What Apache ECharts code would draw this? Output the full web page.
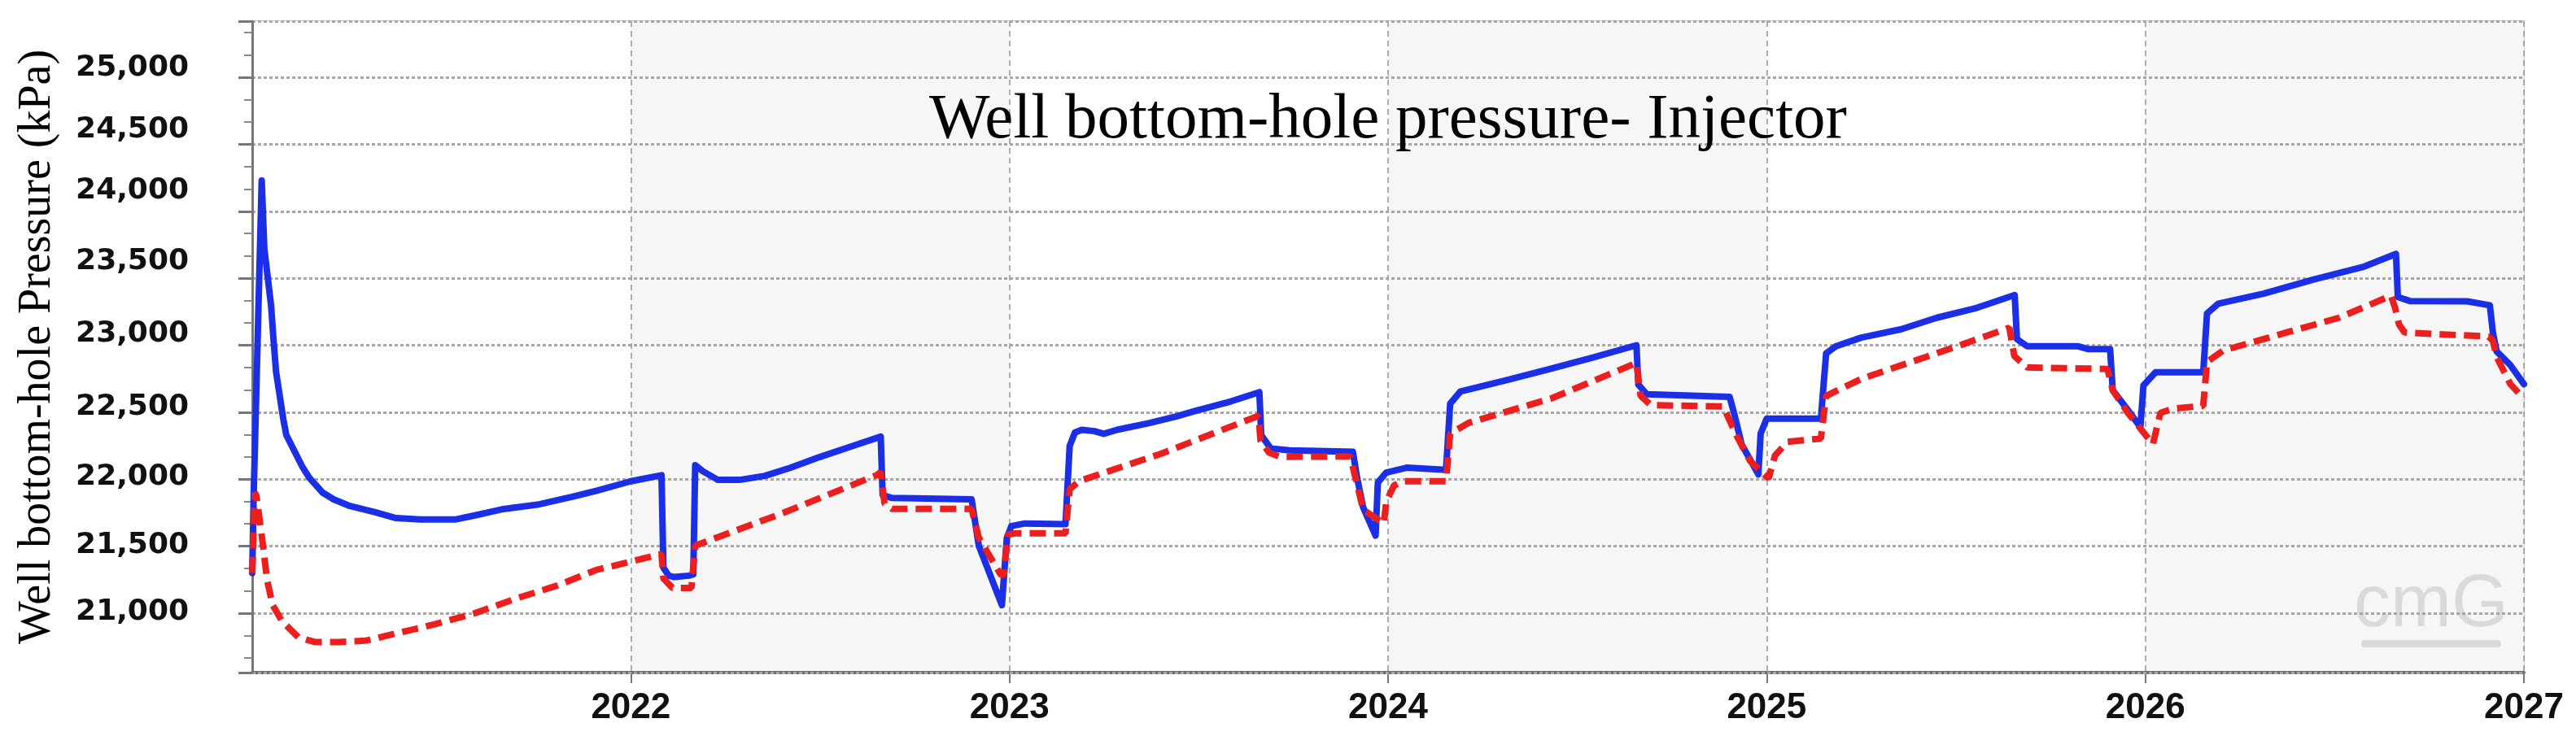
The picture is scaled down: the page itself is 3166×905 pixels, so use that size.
<!DOCTYPE html>
<html>
<head>
<meta charset="utf-8">
<script src="https://cdn.jsdelivr.net/npm/echarts@6/dist/echarts.min.js"></script>
<style>
html,body{margin:0;padding:0;background:#ffffff;}
#chart{width:3166px;height:905px;}
</style>
</head>
<body>
<div id="chart"></div>
<script>
// ---- data (decimal year, kPa) ----
const titleText = 'Well bottom-hole pressure- Injector';
const yAxisTitle = 'Well bottom-hole Pressure (kPa)';
const xMin = 2021, xMax = 2027;
const yMin = 20557, yMax = 25419;

const blueTime = [
  2021.000,2021.004,2021.025,2021.032,2021.050,2021.056,2021.063,2021.082,2021.090,2021.133,
  2021.151,2021.186,2021.215,2021.258,2021.323,2021.380,2021.444,2021.538,2021.588,2021.659,
  2021.753,2021.847,2021.910,2022.000,2022.081,2022.086,2022.100,2022.115,2022.153,2022.165,
  2022.170,2022.190,2022.230,2022.287,2022.354,2022.421,2022.498,2022.593,2022.660,2022.665,
  2022.690,2022.900,2022.919,2022.947,2022.980,2022.993,2023.005,2023.041,2023.148,2023.159,
  2023.173,2023.191,2023.224,2023.249,2023.284,2023.370,2023.442,2023.492,2023.585,2023.660,
  2023.665,2023.690,2023.740,2023.907,2023.918,2023.934,2023.967,2023.973,2023.995,2024.049,
  2024.153,2024.164,2024.191,2024.235,2024.322,2024.432,2024.541,2024.656,2024.661,2024.683,
  2024.902,2024.913,2024.934,2024.978,2024.984,2025.000,2025.143,2025.157,2025.183,2025.250,
  2025.356,2025.449,2025.555,2025.655,2025.661,2025.688,2025.821,2025.848,2025.907,2025.914,
  2025.954,2025.987,2025.995,2026.027,2026.153,2026.163,2026.193,2026.312,2026.445,2026.578,
  2026.662,2026.667,2026.699,2026.850,2026.910,2026.918,2026.928,2026.964,2027.000
];
const blueValues = [
  21300,21900,24230,23720,23290,23050,22800,22450,22330,22090,
  22010,21900,21850,21800,21755,21710,21700,21700,21730,21775,
  21810,21870,21915,21985,22030,21340,21280,21270,21280,21290,
  22105,22060,21995,21995,22025,22085,22165,22255,22318,21881,
  21860,21850,21504,21301,21060,21560,21650,21670,21665,22248,
  22349,22369,22359,22339,22369,22420,22470,22511,22581,22650,
  22329,22230,22215,22205,22015,21792,21579,21975,22050,22086,
  22070,22564,22655,22685,22746,22827,22909,23000,22706,22635,
  22614,22503,22259,22036,22340,22452,22452,22940,22993,23057,
  23120,23205,23279,23375,23046,22993,22993,22972,22972,22664,
  22516,22389,22700,22798,22798,23237,23311,23385,23491,23587,
  23682,23360,23330,23328,23298,23095,22954,22852,22710
];

const redTime = [
  2021.000,2021.007,2021.011,2021.018,2021.029,2021.039,2021.054,2021.079,2021.122,2021.165,
  2021.229,2021.301,2021.373,2021.480,2021.588,2021.695,2021.803,2021.910,2022.000,2022.081,
  2022.086,2022.110,2022.160,2022.170,2022.402,2022.651,2022.660,2022.670,2022.690,2022.900,
  2022.919,2022.976,2022.985,2022.995,2023.014,2023.148,2023.159,2023.184,2023.400,2023.658,
  2023.663,2023.686,2023.714,2023.900,2023.918,2023.934,2023.989,2023.995,2024.016,2024.038,
  2024.153,2024.164,2024.213,2024.432,2024.656,2024.667,2024.694,2024.885,2024.918,2024.956,
  2025.005,2025.022,2025.055,2025.143,2025.157,2025.250,2025.382,2025.515,2025.641,2025.654,
  2025.688,2025.900,2025.914,2025.954,2026.020,2026.040,2026.073,2026.153,2026.163,2026.206,
  2026.378,2026.511,2026.649,2026.660,2026.670,2026.685,2026.907,2026.918,2026.928,2026.964,
  2027.000
];
const redValues = [
  21300,21900,21876,21732,21492,21252,21060,20940,20820,20785,
  20785,20796,20844,20916,21000,21108,21204,21324,21385,21443,
  21260,21189,21189,21504,21748,22033,22054,21820,21779,21779,
  21565,21291,21280,21586,21596,21596,21925,21986,22190,22474,
  22289,22198,22167,22170,21966,21772,21670,21833,21954,21985,
  21985,22340,22421,22604,22868,22624,22553,22543,22340,22137,
  22005,22178,22279,22304,22622,22749,22876,23004,23131,22919,
  22834,22823,22664,22495,22262,22495,22527,22548,22876,22961,
  23099,23205,23370,23277,23156,23095,23065,23034,22913,22711,
  22600
];

const pair = (ts, vs) => ts.map((t, i) => [t, vs[i]]);

// styling: the reference's y tick labels sit a little above their grid lines (px lift)
const yLabelFont = {fontFamily: 'DejaVu Sans', fontWeight: 'bold', fontSize: 36, color: '#111'};
const yLabelLift = {25000: 11, 24500: 18, 24000: 25, 23500: 21, 23000: 14, 22500: 6, 22000: 3, 21500: 1, 21000: 1};
const yRich = {};
Object.keys(yLabelLift).forEach(k => {
  yRich['l' + k] = Object.assign({padding: [0, 0, 2 * yLabelLift[k], 0]}, yLabelFont);
});

const chart = echarts.init(document.getElementById('chart'), null, {renderer: 'canvas'});
chart.setOption({
  animation: false,
  backgroundColor: '#ffffff',
  title: {
    text: titleText,
    left: 1701,
    textAlign: 'center',
    top: 104,
    textStyle: {fontFamily: 'Liberation Serif', fontWeight: 'normal', fontSize: 79, color: '#000'}
  },
  grid: {
    left: 310, right: 64, top: 26, bottom: 78,
    show: true, borderColor: '#c9c9c9', borderWidth: 2, backgroundColor: '#ffffff'
  },
  xAxis: {
    type: 'value',
    z: 0,
    min: xMin, max: xMax, interval: 1,
    axisLine: {show: true, onZero: false, lineStyle: {color: '#6e6e6e', width: 4}},
    axisTick: {show: true, length: 13, lineStyle: {color: '#777', width: 2}},
    axisLabel: {
      showMinLabel: false,
      margin: 22,
      fontFamily: 'Liberation Sans', fontWeight: 'bold', fontSize: 44, color: '#111',
      formatter: v => String(Math.round(v))
    },
    splitLine: {show: true, lineStyle: {color: '#949494', width: 1.5, type: [7, 5]}},
    splitArea: {show: true, areaStyle: {color: ['#ffffff', '#f6f6f6']}}
  },
  yAxis: {
    type: 'value',
    z: 1,
    min: yMin, max: yMax, splitNumber: 10,
    name: yAxisTitle,
    nameLocation: 'middle',
    nameGap: 236,
    nameTextStyle: {fontFamily: 'Liberation Serif', fontSize: 56, color: '#000'},
    axisLine: {show: true, lineStyle: {color: '#777', width: 3}},
    axisTick: {show: true, length: 17, lineStyle: {color: '#777', width: 3}},
    minorTick: {show: true, splitNumber: 3, length: 10, lineStyle: {color: '#888', width: 2}},
    axisLabel: Object.assign({
      showMinLabel: false, showMaxLabel: false,
      margin: 78,
      rich: yRich,
      formatter: v => {
        const r = Math.round(v);
        const txt = r.toLocaleString('en-US');
        return yLabelLift[r] !== undefined ? '{l' + r + '|' + txt + '}' : txt;
      }
    }, yLabelFont),
    splitLine: {show: true, lineStyle: {color: '#a6a6a6', width: 3, type: [4, 3]}}
  },
  graphic: [
    {type: 'text', left: 2893, top: 700, z: 1, silent: true,
     style: {text: 'cmG', fontFamily: 'Liberation Sans', fontSize: 90, fontWeight: 'normal', fill: '#dadada'}},
    {type: 'rect', left: 2902, top: 787, z: 1, silent: true,
     shape: {width: 172, height: 9, r: 4}, style: {fill: '#dadada'}}
  ],
  series: [
    {
      name: 'Blue', type: 'line', data: pair(blueTime, blueValues),
      showSymbol: false, smooth: false, z: 3,
      lineStyle: {color: '#1a2fe6', width: 8, join: 'round', cap: 'round'}
    },
    {
      name: 'Red', type: 'line', data: pair(redTime, redValues),
      showSymbol: false, smooth: false, z: 4,
      lineStyle: {color: '#ec1f1f', width: 8, type: [20, 10], cap: 'butt'}
    }
  ]
});
</script>
</body>
</html>
